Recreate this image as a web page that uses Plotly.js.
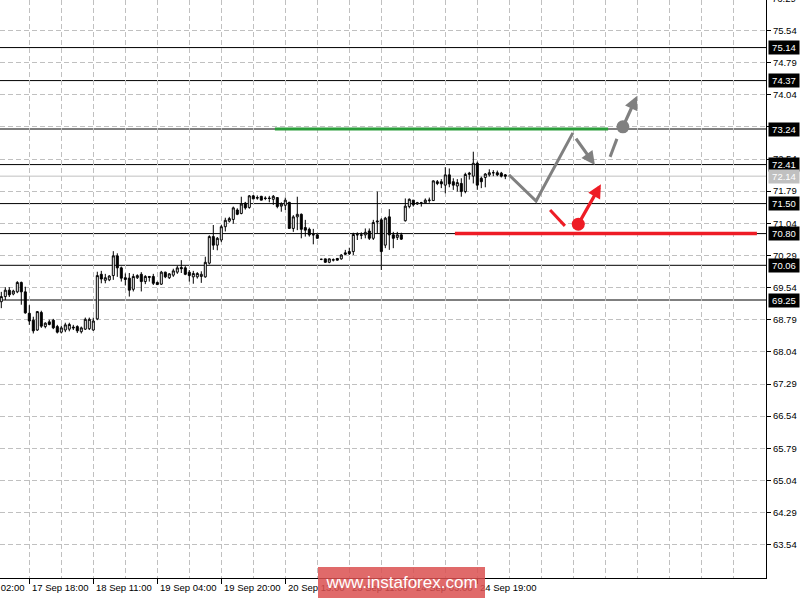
<!DOCTYPE html>
<html><head><meta charset="utf-8">
<script src="https://cdn.plot.ly/plotly-3.0.1.min.js"></script>
<style>html,body{margin:0;padding:0;background:#fff;}#chart{width:809px;height:599px;}</style>
</head><body><div id="chart"></div>
<script>
// ---- candle data (hourly bars, index = bar position) ----
const barIndex = [0,1,2,3,4,5,6,7,8,9,10,11,12,13,14,15,16,17,18,19,20,21,22,23,24,25,26,27,28,29,30,31,32,33,34,35,36,37,38,39,40,41,42,43,44,45,46,47,48,49,50,51,52,53,54,55,56,57,58,59,60,61,62,63,64,65,66,67,68,69,70,71,72,73,74,75,76,77,78,79,80,81,82,83,84,85,86,87,88,89,90,91,92,93,94,95,96,97,98,99,100,101,102,103,104,105,106,107,108,109,110,111,112,113,114,115,116,117,118,119,120,121,122,123,124,125,126];
const openP = [69.21,69.33,69.48,69.39,69.44,69.66,69.44,68.94,68.78,68.55,68.96,68.63,68.74,68.78,68.63,68.50,68.55,68.57,68.62,68.63,68.51,68.57,68.58,68.55,68.81,69.85,69.71,69.72,69.82,70.28,70.00,69.77,69.76,69.50,69.77,69.85,69.68,69.80,69.80,69.66,69.62,69.90,69.77,69.83,69.90,70.01,70.00,69.90,69.79,69.79,69.80,69.79,70.11,70.73,70.53,70.65,70.96,71.09,71.13,71.35,71.27,71.51,71.41,71.68,71.64,71.67,71.63,71.63,71.60,71.64,71.44,71.46,71.53,70.92,71.19,71.25,70.94,70.90,70.78,70.77,70.20,70.21,70.13,70.18,70.22,70.21,70.35,70.38,70.38,70.78,70.76,70.77,70.86,70.69,71.07,71.12,70.53,71.19,70.77,70.71,70.77,71.10,71.43,71.58,71.49,71.52,71.52,71.57,71.57,72.01,72.01,71.93,72.17,72.01,71.91,71.97,71.78,72.18,72.14,72.44,72.09,72.11,72.17,72.22,72.22,72.21,72.17];
const highP = [69.44,69.55,69.55,69.49,69.69,69.68,69.56,69.13,68.86,68.99,69.00,68.73,68.79,68.81,68.67,68.65,68.72,68.72,68.67,68.66,68.63,68.84,68.84,68.84,69.91,69.93,69.86,69.83,70.39,70.34,70.03,69.87,69.88,69.86,69.85,69.90,69.83,69.81,69.86,69.68,69.93,69.91,69.88,69.98,70.05,70.18,70.04,69.95,69.93,69.90,69.92,70.26,70.76,71.00,70.72,71.00,71.17,71.19,71.43,71.39,71.66,71.54,71.70,71.70,71.69,71.68,71.67,71.68,71.70,71.64,71.53,71.64,71.54,71.23,71.66,71.27,71.12,70.94,70.91,70.81,70.21,70.21,70.22,70.22,70.23,70.32,70.42,70.47,70.82,70.83,70.83,70.92,70.92,71.12,71.78,71.16,71.19,71.37,70.84,70.84,70.82,71.62,71.62,71.58,71.54,71.54,71.62,71.64,72.04,72.05,72.07,72.35,72.32,72.09,72.07,72.09,72.22,72.24,72.71,72.48,72.13,72.21,72.30,72.28,72.27,72.24,72.19];
const lowP = [69.06,69.25,69.32,69.36,69.41,69.14,68.93,68.67,68.47,68.53,68.60,68.59,68.66,68.57,68.47,68.47,68.50,68.52,68.55,68.48,68.47,68.55,68.55,68.53,68.78,69.64,69.64,69.69,69.72,69.79,69.68,69.59,69.33,69.45,69.74,69.45,69.62,69.68,69.60,69.60,69.60,69.76,69.74,69.79,69.86,69.88,69.83,69.68,69.63,69.75,69.65,69.77,70.08,70.42,70.41,70.60,70.85,71.06,71.03,71.23,71.25,71.36,71.38,71.60,71.59,71.58,71.58,71.53,71.47,71.39,71.31,71.35,70.92,70.84,70.88,70.69,70.73,70.73,70.55,70.68,70.18,70.12,70.11,70.15,70.17,70.19,70.30,70.30,70.30,70.65,70.67,70.69,70.65,70.65,70.80,69.95,70.46,70.42,70.46,70.65,70.65,71.08,71.39,71.43,71.47,71.43,71.51,71.52,71.56,71.93,71.86,71.74,71.88,71.82,71.78,71.66,71.74,72.06,71.97,71.82,71.86,71.88,72.13,72.14,72.14,72.11,72.07];
const closeP = [69.33,69.48,69.37,69.46,69.66,69.44,68.95,68.76,68.53,68.98,68.64,68.71,68.68,68.60,68.50,68.60,68.67,68.68,68.60,68.53,68.60,68.80,68.80,68.76,69.82,69.74,69.77,69.81,70.28,70.00,69.76,69.73,69.48,69.80,69.82,69.68,69.80,69.78,69.64,69.61,69.90,69.79,69.86,69.93,70.00,69.98,69.85,69.82,69.87,69.87,69.85,70.13,70.73,70.53,70.69,70.96,71.11,71.15,71.40,71.25,71.49,71.40,71.68,71.61,71.63,71.58,71.62,71.62,71.67,71.43,71.49,71.58,70.92,71.19,71.25,70.90,70.88,70.77,70.77,70.69,70.20,70.13,70.21,70.19,70.18,70.30,70.32,70.33,70.78,70.77,70.77,70.83,70.69,71.06,71.09,70.38,71.16,70.77,70.69,70.77,70.67,71.44,71.60,71.47,71.52,71.52,71.58,71.58,72.03,71.97,71.96,72.17,71.96,71.93,71.99,71.78,72.18,72.21,72.44,71.93,72.01,72.19,72.22,72.22,72.17,72.14,72.14];

// ---- axes ----
const xLabelIdx = [-9,7,23,39,55,71,87,103,119];
const xLabelText = ['17 Sep 02:00','17 Sep 18:00','18 Sep 11:00','19 Sep 04:00','19 Sep 20:00','20 Sep 13:00','23 Sep 11:00','24 Sep 03:00','24 Sep 19:00'];
const xGridIdx = [15,31,47,63,79,95,111,127,135,143,151,159,167,175,183,191];
const yTickVals = [63.54,64.29,65.04,65.79,66.54,67.29,68.04,68.79,69.54,70.29,71.04,71.79,72.54,73.29,74.04,74.79,75.54];
const yTopPartialLabel = 76.29;
const xRange = [-0.325, 191.175];
const yRange = [62.764, 76.25];

// ---- levels ----
const levels = [75.14,74.37,73.24,72.41,71.50,70.80,70.06,69.25];
const bidLevel = 72.14;
const greenIdx = [68.4,151.7], greenPrice = [73.24,73.24];
const redIdx = [113.4,188.9], redPrice = [70.80,70.80];

// ---- forecast drawing ----
const grayPathIdx = [126.9,133.7,142.9], grayPathPrice = [72.17,71.56,73.15];
const grayArrow1Idx = [143.4,148.4], grayArrow1Price = [73.05,72.40];
const grayDashIdx = [152.2,153.9], grayDashPrice = [72.59,73.01];
const grayDotIdx = 155.4, grayDotPrice = 73.29;
const grayArrow2Idx = [155.4,158.9], grayArrow2Price = [73.29,74.01];
const redDashIdx = [137.2,140.9], redDashPrice = [71.35,70.98];
const redDotIdx = 144.25, redDotPrice = 71.02;
const redArrowIdx = [144.25,149.9], redArrowPrice = [71.02,71.95];

const GRAY = '#808080', RED = '#ee1c25', GREEN = '#2a9d3a';
const FONT = 'Liberation Sans, Arial, sans-serif';

const traces = [
  {type:'candlestick', x:barIndex, open:openP, high:highP, low:lowP, close:closeP,
   increasing:{line:{color:'#000',width:1}, fillcolor:'#ffffff'},
   decreasing:{line:{color:'#000',width:1}, fillcolor:'#000000'},
   whiskerwidth:0, hoverinfo:'skip', showlegend:false},
  {type:'scatter', mode:'lines', x:grayPathIdx, y:grayPathPrice, line:{color:GRAY,width:3}, hoverinfo:'skip'},
  {type:'scatter', mode:'lines', x:grayDashIdx, y:grayDashPrice, line:{color:GRAY,width:3}, hoverinfo:'skip'},
  {type:'scatter', mode:'lines', x:redDashIdx, y:redDashPrice, line:{color:RED,width:3}, hoverinfo:'skip'}
];

const shapes = [];
levels.forEach(v => shapes.push({type:'line', xref:'paper', x0:0, x1:1, yref:'y', y0:v, y1:v, line:{color:'#000',width:1}, layer:'between'}));
shapes.push({type:'line', xref:'paper', x0:0, x1:1, yref:'y', y0:bidLevel, y1:bidLevel, line:{color:'#c0c0c0',width:1}, layer:'between'});
shapes.push({type:'line', xref:'x', yref:'y', x0:greenIdx[0], x1:greenIdx[1], y0:greenPrice[0], y1:greenPrice[1], line:{color:GREEN,width:3}, layer:'above'});
shapes.push({type:'line', xref:'x', yref:'y', x0:redIdx[0], x1:redIdx[1], y0:redPrice[0], y1:redPrice[1], line:{color:RED,width:3.5}, layer:'above'});
[[grayDotIdx,grayDotPrice,GRAY],[redDotIdx,redDotPrice,RED]].forEach(d => shapes.push({
  type:'circle', xref:'x', yref:'y', xsizemode:'pixel', ysizemode:'pixel', xanchor:d[0], yanchor:d[1],
  x0:-6.5, x1:6.5, y0:-6.5, y1:6.5, fillcolor:d[2], line:{width:0}, layer:'above'}));

const annotations = [];
// arrows
[[grayArrow1Idx,grayArrow1Price,GRAY],[grayArrow2Idx,grayArrow2Price,GRAY],[redArrowIdx,redArrowPrice,RED]].forEach(a => annotations.push({
  xref:'x', yref:'y', axref:'x', ayref:'y', x:a[0][1], y:a[1][1], ax:a[0][0], ay:a[1][0], text:'',
  showarrow:true, arrowhead:2, arrowsize:0.85, arrowwidth:3.2, arrowcolor:a[2], standoff:0, startstandoff:0}));
// x labels
const xSpan = xRange[1]-xRange[0];
xLabelIdx.forEach((v,i) => annotations.push({
  xref:'paper', yref:'paper', x:(v-xRange[0])/xSpan, y:0, xanchor:'left', yanchor:'top', xshift:1, yshift:-2,
  text:xLabelText[i], showarrow:false, font:{family:FONT,size:9.5,color:'#000'}}));
// partially visible top label
annotations.push({xref:'paper', yref:'paper', x:1, xshift:4, xanchor:'left', yanchor:'middle',
  y:1+(yTopPartialLabel-yRange[1])/(yRange[1]-yRange[0]), text:yTopPartialLabel.toFixed(2), showarrow:false,
  font:{family:FONT,size:9.5,color:'#000'}});
// level boxes
levels.forEach(v => annotations.push({xref:'paper', yref:'y', x:1, xshift:2, xanchor:'left', y:v, yanchor:'middle',
  text:v.toFixed(2), showarrow:false, bgcolor:'#000', borderpad:1, width:28, height:11,
  font:{family:FONT,size:9.5,color:'#fff'}}));
annotations.push({xref:'paper', yref:'y', x:1, xshift:2, xanchor:'left', y:bidLevel, yanchor:'middle',
  text:bidLevel.toFixed(2), showarrow:false, bgcolor:'#c0c0c0', borderpad:1, width:28, height:11,
  font:{family:FONT,size:9.5,color:'#fff'}});
// watermark
annotations.push({xref:'paper', yref:'paper', x:401.5/766, y:-4/578, xanchor:'center', yanchor:'middle',
  text:'www.instaforex.com', showarrow:false, bgcolor:'rgba(218,80,80,0.85)', borderpad:0, borderwidth:0,
  width:167, height:31, font:{family:FONT,size:17,color:'#fff'}});

const layout = {
  width:809, height:599, margin:{l:0,r:43,t:0,b:21,pad:0},
  paper_bgcolor:'#fff', plot_bgcolor:'#fff', showlegend:false,
  boxgap:0.5, boxgroupgap:0,
  font:{family:FONT,size:9.5,color:'#000'},
  xaxis:{range:xRange, type:'linear', rangeslider:{visible:false}, fixedrange:true,
    tickmode:'array', tickvals:xLabelIdx.slice(1), showticklabels:false, ticks:'outside', ticklen:5, tickcolor:'#000', tickwidth:1,
    showgrid:true, gridcolor:'#c0c0c0', griddash:'5px,3px', gridwidth:1,
    minor:{tickmode:'array', tickvals:xGridIdx, showgrid:true, gridcolor:'#c0c0c0', griddash:'5px,3px', gridwidth:1, ticks:''},
    showline:true, linecolor:'#000', linewidth:1, zeroline:false},
  yaxis:{range:yRange, side:'right', fixedrange:true, tickmode:'array', tickvals:yTickVals,
    ticktext:yTickVals.map(v=>v.toFixed(2)), ticks:'outside', ticklen:4, tickcolor:'#000', tickwidth:1,
    tickfont:{family:FONT,size:9.5,color:'#000'},
    showgrid:true, gridcolor:'#c0c0c0', griddash:'5px,3px', gridwidth:1,
    showline:true, linecolor:'#000', linewidth:1, zeroline:false},
  shapes:shapes, annotations:annotations
};
Plotly.newPlot('chart', traces, layout, {staticPlot:true, displayModeBar:false});
</script></body></html>
